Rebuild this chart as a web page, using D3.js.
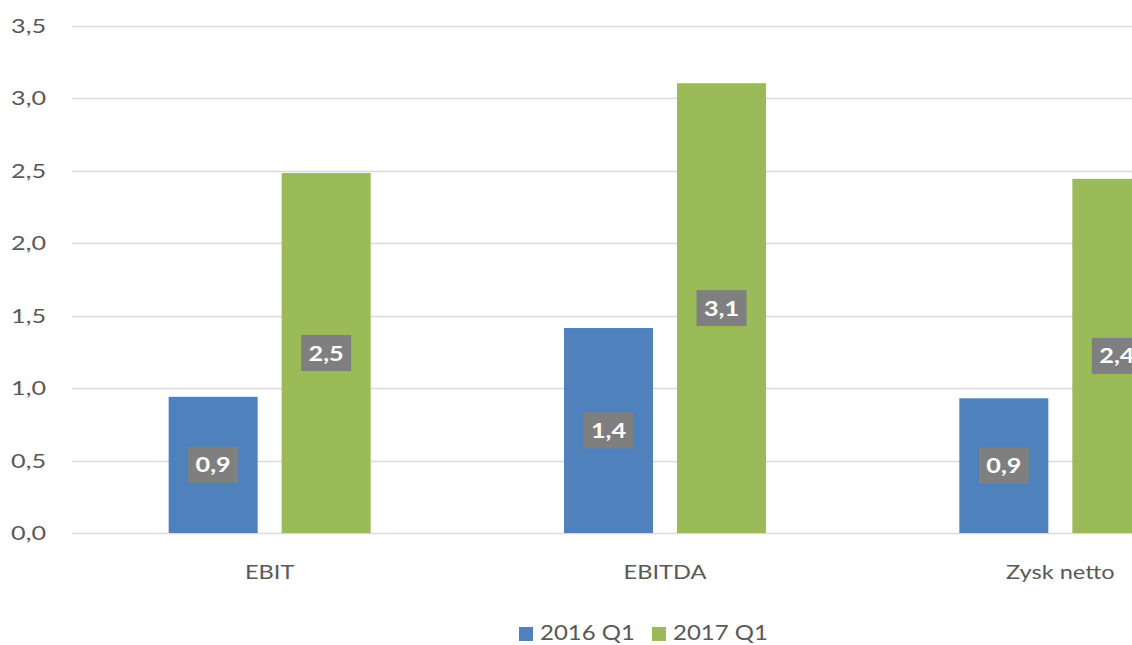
<!DOCTYPE html>
<html><head><meta charset="utf-8">
<script src="https://cdn.jsdelivr.net/npm/d3@7"></script>
<style>html,body{margin:0;padding:0;background:#fff;overflow:hidden}</style>
</head><body>
<svg id="c" width="1132" height="645"></svg>
<script>
const categories = ["EBIT", "EBITDA", "Zysk netto"];
const seriesNames = ["2016 Q1", "2017 Q1"];
const values2016 = [0.94, 1.415, 0.93];
const values2017 = [2.485, 3.105, 2.445];
const labels2016 = ["0,9", "1,4", "0,9"];
const labels2017 = ["2,5", "3,1", "2,4"];
const yTicks = [0, 0.5, 1, 1.5, 2, 2.5, 3, 3.5];
const colors = ["#4f81bd", "#9bbb59"];

const svg = d3.select("#c");
const font = "Lato, 'Open Sans', sans-serif";
const sx = 1.26; // horizontal stretch of the reference's text
const plotLeft = 72, plotRight = 1258, plotTop = 26, plotBottom = 533;

const x0 = d3.scaleBand().domain(categories).range([plotLeft, plotRight]).paddingInner(0.489).paddingOuter(0.2445);
const x1 = d3.scaleBand().domain(seriesNames).range([0, x0.bandwidth()]).paddingInner(0.2124).paddingOuter(0);
const y = d3.scaleLinear().domain([0, 3.5]).range([plotBottom, plotTop]);
const fmt = v => d3.format(".1f")(v).replace(".", ",");

// gridlines
svg.append("g").selectAll("line").data(yTicks).join("line")
  .attr("x1", plotLeft).attr("x2", 1132)
  .attr("y1", d => Math.round(y(d)) + 0.5).attr("y2", d => Math.round(y(d)) + 0.5)
  .attr("stroke", "#d9d9d9").attr("stroke-width", 1.3);

// y labels
svg.append("g").selectAll("text").data(yTicks).join("text")
  .attr("transform", d => `translate(46,${y(d) + 7}) scale(${sx},1)`)
  .attr("text-anchor", "end").attr("fill", "#595959")
  .attr("font-family", font).attr("font-size", 20).text(fmt);

const data = categories.map((c, i) => ({
  cat: c,
  items: [
    {s: seriesNames[0], v: values2016[i], l: labels2016[i], col: colors[0]},
    {s: seriesNames[1], v: values2017[i], l: labels2017[i], col: colors[1]}
  ]
}));

const groups = svg.append("g").selectAll("g").data(data).join("g")
  .attr("transform", d => `translate(${x0(d.cat)},0)`);

groups.selectAll("rect").data(d => d.items).join("rect")
  .attr("x", d => x1(d.s)).attr("width", x1.bandwidth())
  .attr("y", d => y(d.v)).attr("height", d => y(0) - y(d.v))
  .attr("fill", d => d.col);

const lab = groups.selectAll("g.lab").data(d => d.items).join("g").attr("class", "lab")
  .attr("transform", d => `translate(${x1(d.s) + x1.bandwidth() / 2},${(y(d.v) + y(0)) / 2})`);
lab.append("rect").attr("x", -25).attr("y", -18).attr("width", 50).attr("height", 36).attr("fill", "#7f7f7f");
lab.append("text").attr("text-anchor", "middle")
  .attr("transform", `translate(0,7.5) scale(${sx},1)`)
  .attr("fill", "#fff").attr("font-family", font).attr("font-weight", "bold").attr("font-size", 20)
  .text(d => d.l);

// category labels
svg.append("g").selectAll("text").data(categories).join("text")
  .attr("transform", d => `translate(${x0(d) + x0.bandwidth() / 2},579) scale(1.21,1)`)
  .attr("text-anchor", "middle").attr("fill", "#595959")
  .attr("font-family", font).attr("font-size", 19.5).text(d => d);

// legend
const legX = [519, 652];
const leg = svg.append("g").selectAll("g").data(seriesNames).join("g")
  .attr("transform", (d, i) => `translate(${legX[i]},0)`);
leg.append("rect").attr("x", 0).attr("y", 627).attr("width", 14).attr("height", 14).attr("fill", (d, i) => colors[i]);
leg.append("text").attr("transform", `translate(21,640) scale(1.17,1)`).attr("fill", "#595959")
  .attr("font-family", font).attr("font-size", 20.5).text(d => d);
</script>
</body></html>
